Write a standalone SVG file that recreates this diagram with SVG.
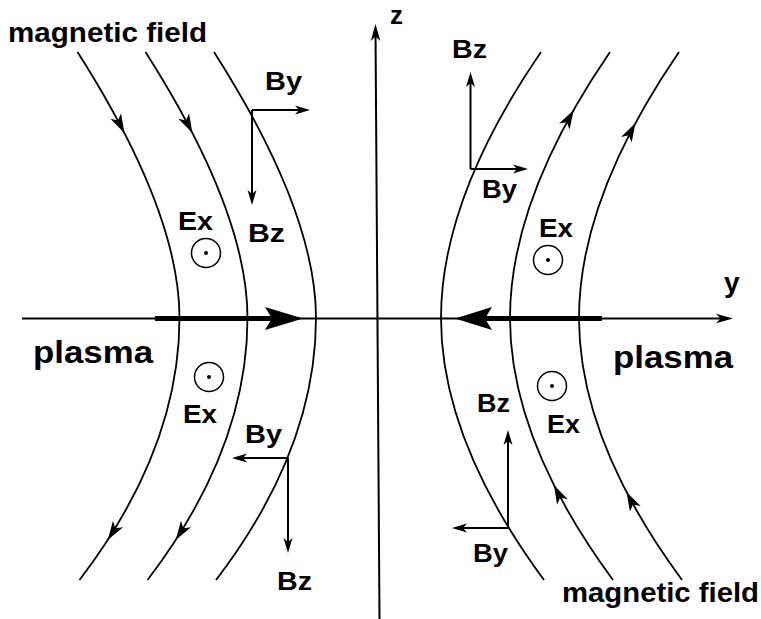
<svg xmlns="http://www.w3.org/2000/svg" xmlns:xlink="http://www.w3.org/1999/xlink" width="761" height="619" viewBox="0 0 761 619">
  <style>
    .bg { fill: #ffffff; }
    .ax { stroke: #000; stroke-width: 2; fill: none; }
    .thick { stroke: #000; stroke-width: 5; fill: none; }
    .fl { stroke: #000; stroke-width: 1.8; fill: none; }
    .vec { stroke: #000; stroke-width: 2; fill: none; }
    .ah { fill: #000; stroke: none; }
    .ring { stroke: #000; stroke-width: 1.5; fill: none; }
    .dot { fill: #000; }
    .lbl { font-family: "Liberation Sans", Arial, Helvetica, sans-serif; font-weight: bold; fill: #000; }
    .s { font-size: 25px; }
    .m { font-size: 27px; }
    .l { font-size: 32px; }
  </style>
  <defs>
    <marker id="vh" markerUnits="userSpaceOnUse" markerWidth="22" markerHeight="14" viewBox="-17 -7 18 14" refX="-6" refY="0" orient="auto">
      <path d="M0,0 L-15,-4.5 L-11,0 L-15,4.5 Z" fill="#000"/>
    </marker>
    <marker id="axh" markerUnits="userSpaceOnUse" markerWidth="22" markerHeight="14" viewBox="-18 -7 19 14" refX="-6" refY="0" orient="auto">
      <path d="M0,0 L-17,-4.8 L-12.5,0 L-17,4.8 Z" fill="#000"/>
    </marker>
    <path id="arrowhead" d="M0,0 L-19,-6 L-14,0 L-19,6 Z"/>
    <path id="lineL" d="M-102,-266 Q0,-106 0,0 Q0,131 -100,262"/>
    <path id="lineR" d="M-100,-266 Q0,-120 0,0 Q0,122 -103,262"/>
    <g id="odot">
      <circle class="ring" cx="0" cy="0" r="14.5"/>
      <circle class="dot" cx="0" cy="0" r="2"/>
    </g>
  </defs>

  <rect class="bg" x="0" y="0" width="761" height="619"/>

  <g id="connectors">
    <g id="axis-z">
      <line class="ax" x1="379.5" y1="619" x2="375.5" y2="30" marker-end="url(#axh)"/>
    </g>
    <g id="axis-y">
      <line class="ax" x1="22" y1="318.5" x2="727" y2="318.5" marker-end="url(#axh)"/>
    </g>

    <g id="plasma-flow-left">
      <line class="thick" x1="155" y1="318.5" x2="274" y2="318.5"/>
      <path class="ah" d="M303,318.5 L265,307 L272,318.5 L265,330 Z"/>
    </g>
    <g id="plasma-flow-right">
      <line class="thick" x1="484" y1="318.5" x2="602" y2="318.5"/>
      <path class="ah" d="M455,318.5 L492,307 L485,318.5 L492,330 Z"/>
    </g>

    <g id="field-left-1">
      <use xlink:href="#lineL" href="#lineL" class="fl" transform="translate(179.5,318)"/>
      <use xlink:href="#arrowhead" href="#arrowhead" class="ah" transform="translate(124.4,133) rotate(62.8)"/>
      <use xlink:href="#arrowhead" href="#arrowhead" class="ah" transform="translate(107.7,540) rotate(122.9)"/>
    </g>
    <g id="field-left-2">
      <use xlink:href="#lineL" href="#lineL" class="fl" transform="translate(247.5,318)"/>
      <use xlink:href="#arrowhead" href="#arrowhead" class="ah" transform="translate(192.4,133) rotate(62.8)"/>
      <use xlink:href="#arrowhead" href="#arrowhead" class="ah" transform="translate(175.7,540) rotate(122.9)"/>
    </g>
    <g id="field-left-3">
      <use xlink:href="#lineL" href="#lineL" class="fl" transform="translate(316,318)"/>
    </g>

    <g id="field-right-1">
      <use xlink:href="#lineR" href="#lineR" class="fl" transform="translate(441,318) scale(-1,1)"/>
    </g>
    <g id="field-right-2">
      <use xlink:href="#lineR" href="#lineR" class="fl" transform="translate(510,318) scale(-1,1)"/>
      <use xlink:href="#arrowhead" href="#arrowhead" class="ah" transform="translate(573.7,110) rotate(-60.45)"/>
      <use xlink:href="#arrowhead" href="#arrowhead" class="ah" transform="translate(553.9,485) rotate(-116.7)"/>
    </g>
    <g id="field-right-3">
      <use xlink:href="#lineR" href="#lineR" class="fl" transform="translate(579,318) scale(-1,1)"/>
      <use xlink:href="#arrowhead" href="#arrowhead" class="ah" transform="translate(635.4,123) rotate(-61.7)"/>
      <use xlink:href="#arrowhead" href="#arrowhead" class="ah" transform="translate(626.5,492) rotate(-117.5)"/>
    </g>

    <g id="vectors-top-left">
      <line class="vec" x1="252" y1="110" x2="304" y2="110" marker-end="url(#vh)"/>
      <line class="vec" x1="252" y1="110" x2="252" y2="199" marker-end="url(#vh)"/>
    </g>
    <g id="vectors-top-right">
      <line class="vec" x1="470.5" y1="169" x2="522" y2="169" marker-end="url(#vh)"/>
      <line class="vec" x1="470.5" y1="169" x2="470.5" y2="78" marker-end="url(#vh)"/>
    </g>
    <g id="vectors-bottom-left">
      <line class="vec" x1="288" y1="458" x2="238" y2="458" marker-end="url(#vh)"/>
      <line class="vec" x1="288" y1="458" x2="288" y2="547" marker-end="url(#vh)"/>
    </g>
    <g id="vectors-bottom-right">
      <line class="vec" x1="508" y1="528" x2="458" y2="528" marker-end="url(#vh)"/>
      <line class="vec" x1="508" y1="528" x2="508" y2="436" marker-end="url(#vh)"/>
    </g>
  </g>

  <g id="ex-symbol-ul"><use xlink:href="#odot" href="#odot" transform="translate(206,253)"/></g>
  <g id="ex-symbol-ll"><use xlink:href="#odot" href="#odot" transform="translate(209,377)"/></g>
  <g id="ex-symbol-ur"><use xlink:href="#odot" href="#odot" transform="translate(548,260)"/></g>
  <g id="ex-symbol-lr"><use xlink:href="#odot" href="#odot" transform="translate(552,386)"/></g>

  <g id="labels">
    <text class="lbl m" x="8" y="42" textLength="199" lengthAdjust="spacingAndGlyphs">magnetic field</text>
    <text class="lbl m" x="562" y="602" textLength="197" lengthAdjust="spacingAndGlyphs">magnetic field</text>
    <text class="lbl" x="390" y="24" style="font-size:26px">z</text>
    <text class="lbl" x="724" y="292" style="font-size:28px">y</text>
    <text class="lbl l" x="33" y="363" textLength="120" lengthAdjust="spacingAndGlyphs">plasma</text>
    <text class="lbl l" x="613" y="368" textLength="120" lengthAdjust="spacingAndGlyphs">plasma</text>

    <text class="lbl s" x="265" y="90" textLength="37" lengthAdjust="spacingAndGlyphs">By</text>
    <text class="lbl s" x="248" y="242" textLength="37" lengthAdjust="spacingAndGlyphs">Bz</text>
    <text class="lbl s" x="178" y="230" textLength="35" lengthAdjust="spacingAndGlyphs">Ex</text>

    <text class="lbl s" x="452" y="58" textLength="35" lengthAdjust="spacingAndGlyphs">Bz</text>
    <text class="lbl s" x="482" y="198" textLength="35" lengthAdjust="spacingAndGlyphs">By</text>
    <text class="lbl s" x="539" y="237" textLength="34" lengthAdjust="spacingAndGlyphs">Ex</text>

    <text class="lbl s" x="183" y="423" textLength="34" lengthAdjust="spacingAndGlyphs">Ex</text>
    <text class="lbl s" x="245" y="443" textLength="37" lengthAdjust="spacingAndGlyphs">By</text>
    <text class="lbl s" x="277" y="590" textLength="35" lengthAdjust="spacingAndGlyphs">Bz</text>

    <text class="lbl s" x="477" y="412" textLength="33" lengthAdjust="spacingAndGlyphs">Bz</text>
    <text class="lbl s" x="547" y="433" textLength="33" lengthAdjust="spacingAndGlyphs">Ex</text>
    <text class="lbl s" x="473" y="562" textLength="35" lengthAdjust="spacingAndGlyphs">By</text>
  </g>
</svg>
